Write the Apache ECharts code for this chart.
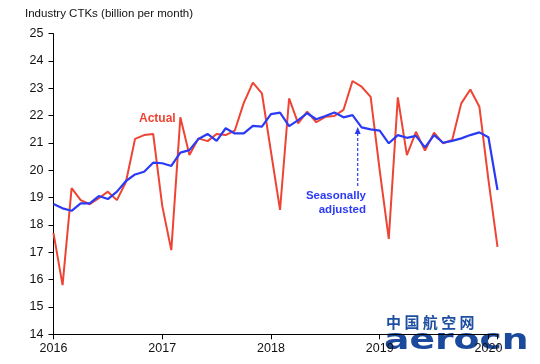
<!DOCTYPE html>
<html><head><meta charset="utf-8">
<script src="https://cdn.jsdelivr.net/npm/echarts@6/dist/echarts.min.js"></script>
<style>html,body{margin:0;padding:0;background:#fff}#c{width:540px;height:364px}</style>
</head><body><div id="c"></div>
<script>
// Months from Jan 2016 (index 0) to Feb 2020 (index 49)
const startYear = 2016;
const yearTicks = ['2016','2017','2018','2019','2020'];
const actual = [17.7,15.8,19.35,18.91,18.76,18.98,19.22,18.91,19.58,21.15,21.29,21.33,
  18.7,17.08,21.94,20.56,21.17,21.07,21.33,21.29,21.45,22.47,23.21,22.82,
  20.68,18.55,22.63,21.72,22.15,21.76,21.96,21.99,22.21,23.27,23.06,22.69,
  20.0,17.49,22.67,20.56,21.41,20.72,21.38,20.99,21.11,22.45,22.96,22.33,
  19.65,17.2];
const seasonal = [18.77,18.61,18.52,18.79,18.79,19.06,18.95,19.22,19.61,19.85,19.95,20.28,
  20.26,20.16,20.65,20.74,21.15,21.33,21.08,21.54,21.35,21.35,21.63,21.6,
  22.06,22.11,21.62,21.84,22.09,21.87,21.99,22.12,21.94,22.02,21.57,21.5,
  21.45,20.99,21.29,21.19,21.26,20.84,21.29,21.01,21.08,21.17,21.29,21.39,
  21.21,19.28];
const yTitle = 'Industry CTKs (billion per month)';

const toPairs = arr => arr.map((v,i)=>[i,v]);
const chart = echarts.init(document.getElementById('c'));
const font = 'Liberation Sans, Arial, sans-serif';
chart.setOption({
  animation:false,
  backgroundColor:'#fff',
  grid:{left:53.5,right:42.5,top:33.7,bottom:29.7},
  xAxis:{type:'value',min:0,max:49,interval:12,
    axisLine:{lineStyle:{color:'#000',width:1}},
    axisTick:{show:true,inside:false,length:5,lineStyle:{color:'#000'}},
    splitLine:{show:false},
    axisLabel:{color:'#111',fontSize:12.5,fontFamily:font,margin:8,
      formatter:v=> (v%12===0 ? yearTicks[v/12] : '')}},
  yAxis:{type:'value',min:14,max:25,interval:1,
    axisLine:{show:true,lineStyle:{color:'#000',width:1}},
    axisTick:{show:true,inside:false,length:5,lineStyle:{color:'#000'}},
    splitLine:{show:false},
    axisLabel:{color:'#111',fontSize:12.5,fontFamily:font,margin:10}},
  series:[
    {type:'line',data:toPairs(actual),showSymbol:false,lineStyle:{color:'#EE4433',width:2},z:2},
    {type:'line',data:toPairs(seasonal),showSymbol:false,lineStyle:{color:'#2B3BF5',width:2.2},z:3}
  ],
  graphic:[
    {type:'text',left:25,top:8,style:{text:yTitle,fill:'#111',font:'11.5px '+font}},
    {type:'text',left:139,top:113,style:{text:'Actual',fill:'#EE4433',font:'bold 12px '+font}},
    {type:'text',x:366,y:189,style:{text:'Seasonally\nadjusted',fill:'#2B3BF5',font:'bold 11.5px '+font,align:'right',verticalAlign:'top',lineHeight:14}},
    {type:'line',shape:{x1:357.7,y1:186,x2:357.7,y2:132},style:{stroke:'#2B3BF5',lineWidth:1.2,lineDash:[3,2]}},
    {type:'polygon',shape:{points:[[357.7,127],[354.7,134],[360.7,134]]},style:{fill:'#2B3BF5'}},
    {type:'text',x:386,y:315,style:{text:'中 国 航 空 网',fill:'#1E4FA0',font:'bold 15px Noto Sans CJK SC',verticalAlign:'top'}},
    {type:'text',x:384,y:327,scaleX:1.3,scaleY:1,style:{text:'aerocn',fill:'#1B4A9C',font:'900 29px DejaVu Sans',verticalAlign:'top'}}
  ]
});
</script></body></html>
